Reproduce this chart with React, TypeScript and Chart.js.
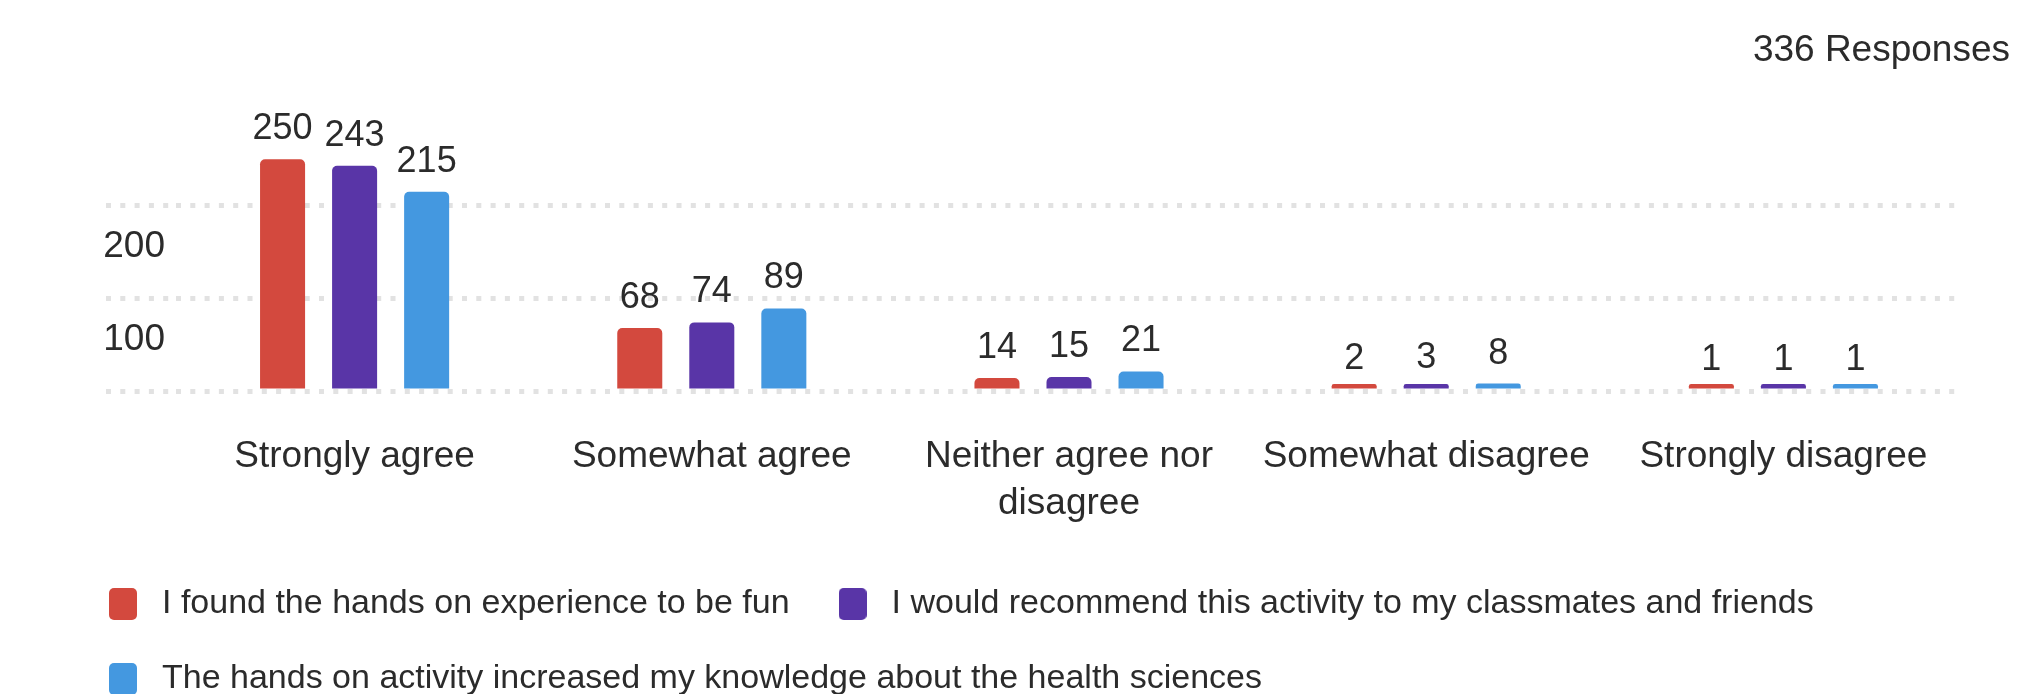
import React, { useEffect, useRef } from 'react';
import { Chart, registerables } from 'chart.js';

Chart.register(...registerables);

// ---- data ----
const categories: (string | string[])[] = [
  'Strongly agree',
  'Somewhat agree',
  ['Neither agree nor', 'disagree'],
  'Somewhat disagree',
  'Strongly disagree',
];
const seriesLabels = [
  'I found the hands on experience to be fun',
  'I would recommend this activity to my classmates and friends',
  'The hands on activity increased my knowledge about the health sciences',
];
const funValues = [250, 68, 14, 2, 1];
const recommendValues = [243, 74, 15, 3, 1];
const knowledgeValues = [215, 89, 21, 8, 1];
const seriesColors = ['#D3493E', '#5935A7', '#4498E0'];
const yTickValues = [0, 100, 200];
const yMax = 300;
const responsesText = '336 Responses';

const FONT = '"Liberation Sans", Arial, Helvetica, sans-serif';
const TEXT = '#2b2b2b';
const GRID = '#e2e2e2';

function makeSwatch(color: string): HTMLCanvasElement {
  const c = document.createElement('canvas');
  c.width = 28;
  c.height = 32;
  const g = c.getContext('2d')!;
  const w = 28, h = 32, r = 5;
  g.beginPath();
  g.moveTo(r, 0);
  g.lineTo(w - r, 0);
  g.arcTo(w, 0, w, r, r);
  g.lineTo(w, h - r);
  g.arcTo(w, h, w - r, h, r);
  g.lineTo(r, h);
  g.arcTo(0, h, 0, h - r, r);
  g.lineTo(0, r);
  g.arcTo(0, 0, r, 0, r);
  g.closePath();
  g.fillStyle = color;
  g.fill();
  return c;
}

const valueLabelPlugin = {
  id: 'valueLabels',
  afterDatasetsDraw(chart: any) {
    const ctx = chart.ctx;
    const yScale = chart.scales.y;
    ctx.save();
    ctx.font = `36px ${FONT}`;
    ctx.fillStyle = TEXT;
    ctx.textAlign = 'center';
    ctx.textBaseline = 'middle';
    chart.data.datasets.forEach((ds: any, i: number) => {
      const meta = chart.getDatasetMeta(i);
      meta.data.forEach((bar: any, j: number) => {
        const v = ds.data[j];
        const y = yScale.getPixelForValue(v) - 30;
        ctx.fillText(String(v), bar.x, y);
      });
    });
    ctx.restore();
  },
};

export default function App() {
  const ref = useRef<HTMLCanvasElement | null>(null);

  useEffect(() => {
    document.body.style.margin = '0';
    const swatches = seriesColors.map(makeSwatch);
    const seriesValues = [funValues, recommendValues, knowledgeValues];
    const chart = new Chart(ref.current!, {
      type: 'bar',
      data: {
        labels: categories,
        datasets: seriesValues.map((vals, i) => ({
          label: seriesLabels[i],
          data: vals,
          backgroundColor: seriesColors[i],
          borderRadius: 5,
          borderSkipped: 'start',
          minBarLength: 7,
          yAxisID: 'y',
        })),
      },
      options: {
        responsive: false,
        animation: false,
        devicePixelRatio: 1,
        events: [],
        layout: { padding: { left: 60, right: 17, top: 0, bottom: -12 } },
        datasets: {
          bar: { barPercentage: 0.625, categoryPercentage: 0.605 },
        },
        scales: {
          x: {
            grid: { display: false, drawTicks: false },
            border: { display: false },
            ticks: {
              color: TEXT,
              font: { size: 37, family: FONT, lineHeight: 1.27 },
              padding: 42,
              maxRotation: 0,
              minRotation: 0,
              autoSkip: false,
            },
            afterFit: (s: any) => {
              s.height = 155;
            },
          },
          y: {
            min: 0,
            max: yMax,
            position: 'left',
            border: { display: false, dash: [5, 9.3] },
            grid: {
              color: GRID,
              lineWidth: 5,
              drawTicks: true,
              tickLength: 70,
              tickColor: GRID,
              tickWidth: 5,
              tickBorderDash: [5, 9.3],
            },
            ticks: {
              stepSize: 100,
              padding: -59,
              labelOffset: 41,
              color: TEXT,
              font: { size: 37, family: FONT },
              callback: (v: any) => (v === 0 ? '' : String(v)),
            },
            afterBuildTicks: (s: any) => {
              s.ticks = s.ticks.filter((t: any) => yTickValues.includes(t.value));
            },
            afterFit: (s: any) => {
              s.width = 116;
            },
          },
          yR: {
            type: 'linear',
            position: 'right',
            display: true,
            grid: { display: false, drawTicks: false },
            border: { display: false },
            ticks: { display: false },
            afterFit: (s: any) => {
              s.width = 48;
            },
          },
        },
        plugins: {
          tooltip: { enabled: false },
          title: {
            display: true,
            text: responsesText,
            align: 'end',
            color: TEXT,
            font: { size: 37, family: FONT, weight: 'normal', lineHeight: 1.2 },
            padding: { top: 28.8, bottom: 39.7 },
          },
          legend: {
            display: true,
            position: 'bottom',
            align: 'start',
            labels: {
              usePointStyle: true,
              pointStyleWidth: 44,
              padding: 41,
              color: TEXT,
              font: { size: 34, family: FONT },
              generateLabels: (ch: any) => {
                const items = Chart.defaults.plugins.legend.labels.generateLabels(ch);
                return items.map((it: any, i: number) => ({ ...it, pointStyle: swatches[i] }));
              },
            },
          },
        },
      } as any,
      plugins: [valueLabelPlugin],
    });
    return () => chart.destroy();
  }, []);

  return (
    <div style={{ width: 2027, height: 694, background: '#fff' }}>
      <canvas ref={ref} width={2027} height={694} style={{ display: 'block' }} />
    </div>
  );
}
